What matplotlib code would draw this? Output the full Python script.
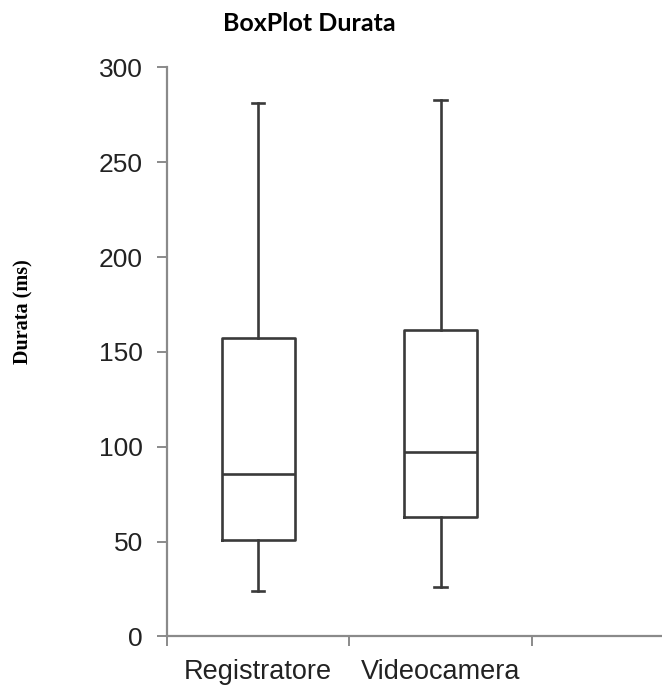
import matplotlib
matplotlib.use("Agg")
from matplotlib import pyplot as plt

categories = ["Registratore", "Videocamera"]
whisker_low = [24.1, 25.9]
q1 = [50.9, 62.8]
median = [85.8, 97.3]
q3 = [157.2, 161.6]
whisker_high = [281.5, 283.1]

stats = []
for name, lo, a, m, b, hi in zip(categories, whisker_low, q1, median, q3, whisker_high):
    stats.append({"label": name, "whislo": lo, "q1": a, "med": m, "q3": b,
                  "whishi": hi, "fliers": []})

fig = plt.figure(figsize=(6.62, 6.89), dpi=100)
ax = fig.add_axes([0.2518, 0.0762, 0.7482, 0.8259])

line_col = "#3a3a3a"
box_lw = 1.9
positions = [0.5 + i for i in range(len(categories))]
ax.bxp(stats, positions=positions, widths=0.4, showfliers=False,
       capwidths=0.07,
       boxprops=dict(color=line_col, linewidth=box_lw),
       medianprops=dict(color=line_col, linewidth=box_lw),
       whiskerprops=dict(color=line_col, linewidth=box_lw),
       capprops=dict(color=line_col, linewidth=box_lw))

ax.set_xlim(0, 2.71)
ax.set_ylim(0, 300)
ax.set_yticks(range(0, 301, 50))

# category boundary ticks without labels, labels centred on the boxes
ax.set_xticks([0, 1, 2])
ax.set_xticklabels([])
ax.set_xticks(positions, minor=True)
ax.set_xticklabels(categories, minor=True, fontsize=19.5,
                   family="Liberation Sans", color="#222222")
ax.tick_params(axis="x", which="minor", length=0, pad=16)

spine_col = "#8a8a8a"
ax.tick_params(axis="both", which="major", direction="out", length=7,
               width=1.4, color=spine_col)
ax.tick_params(axis="y", labelsize=19, pad=10, labelcolor="#222222")
for lab in ax.get_yticklabels():
    lab.set_family("Liberation Sans")

for side in ["top", "right"]:
    ax.spines[side].set_visible(False)
for side in ["left", "bottom"]:
    ax.spines[side].set_color(spine_col)
    ax.spines[side].set_linewidth(1.6)

fig.text(0.467, 0.966, "BoxPlot Durata", ha="center", va="center",
         fontsize=18, fontweight="bold", family="Lato")
fig.text(0.035, 0.547, "Durata (ms)", ha="center", va="center", rotation=90,
         fontsize=14.5, fontweight="bold", family="Liberation Serif")

fig.savefig("out.png", dpi=100)
